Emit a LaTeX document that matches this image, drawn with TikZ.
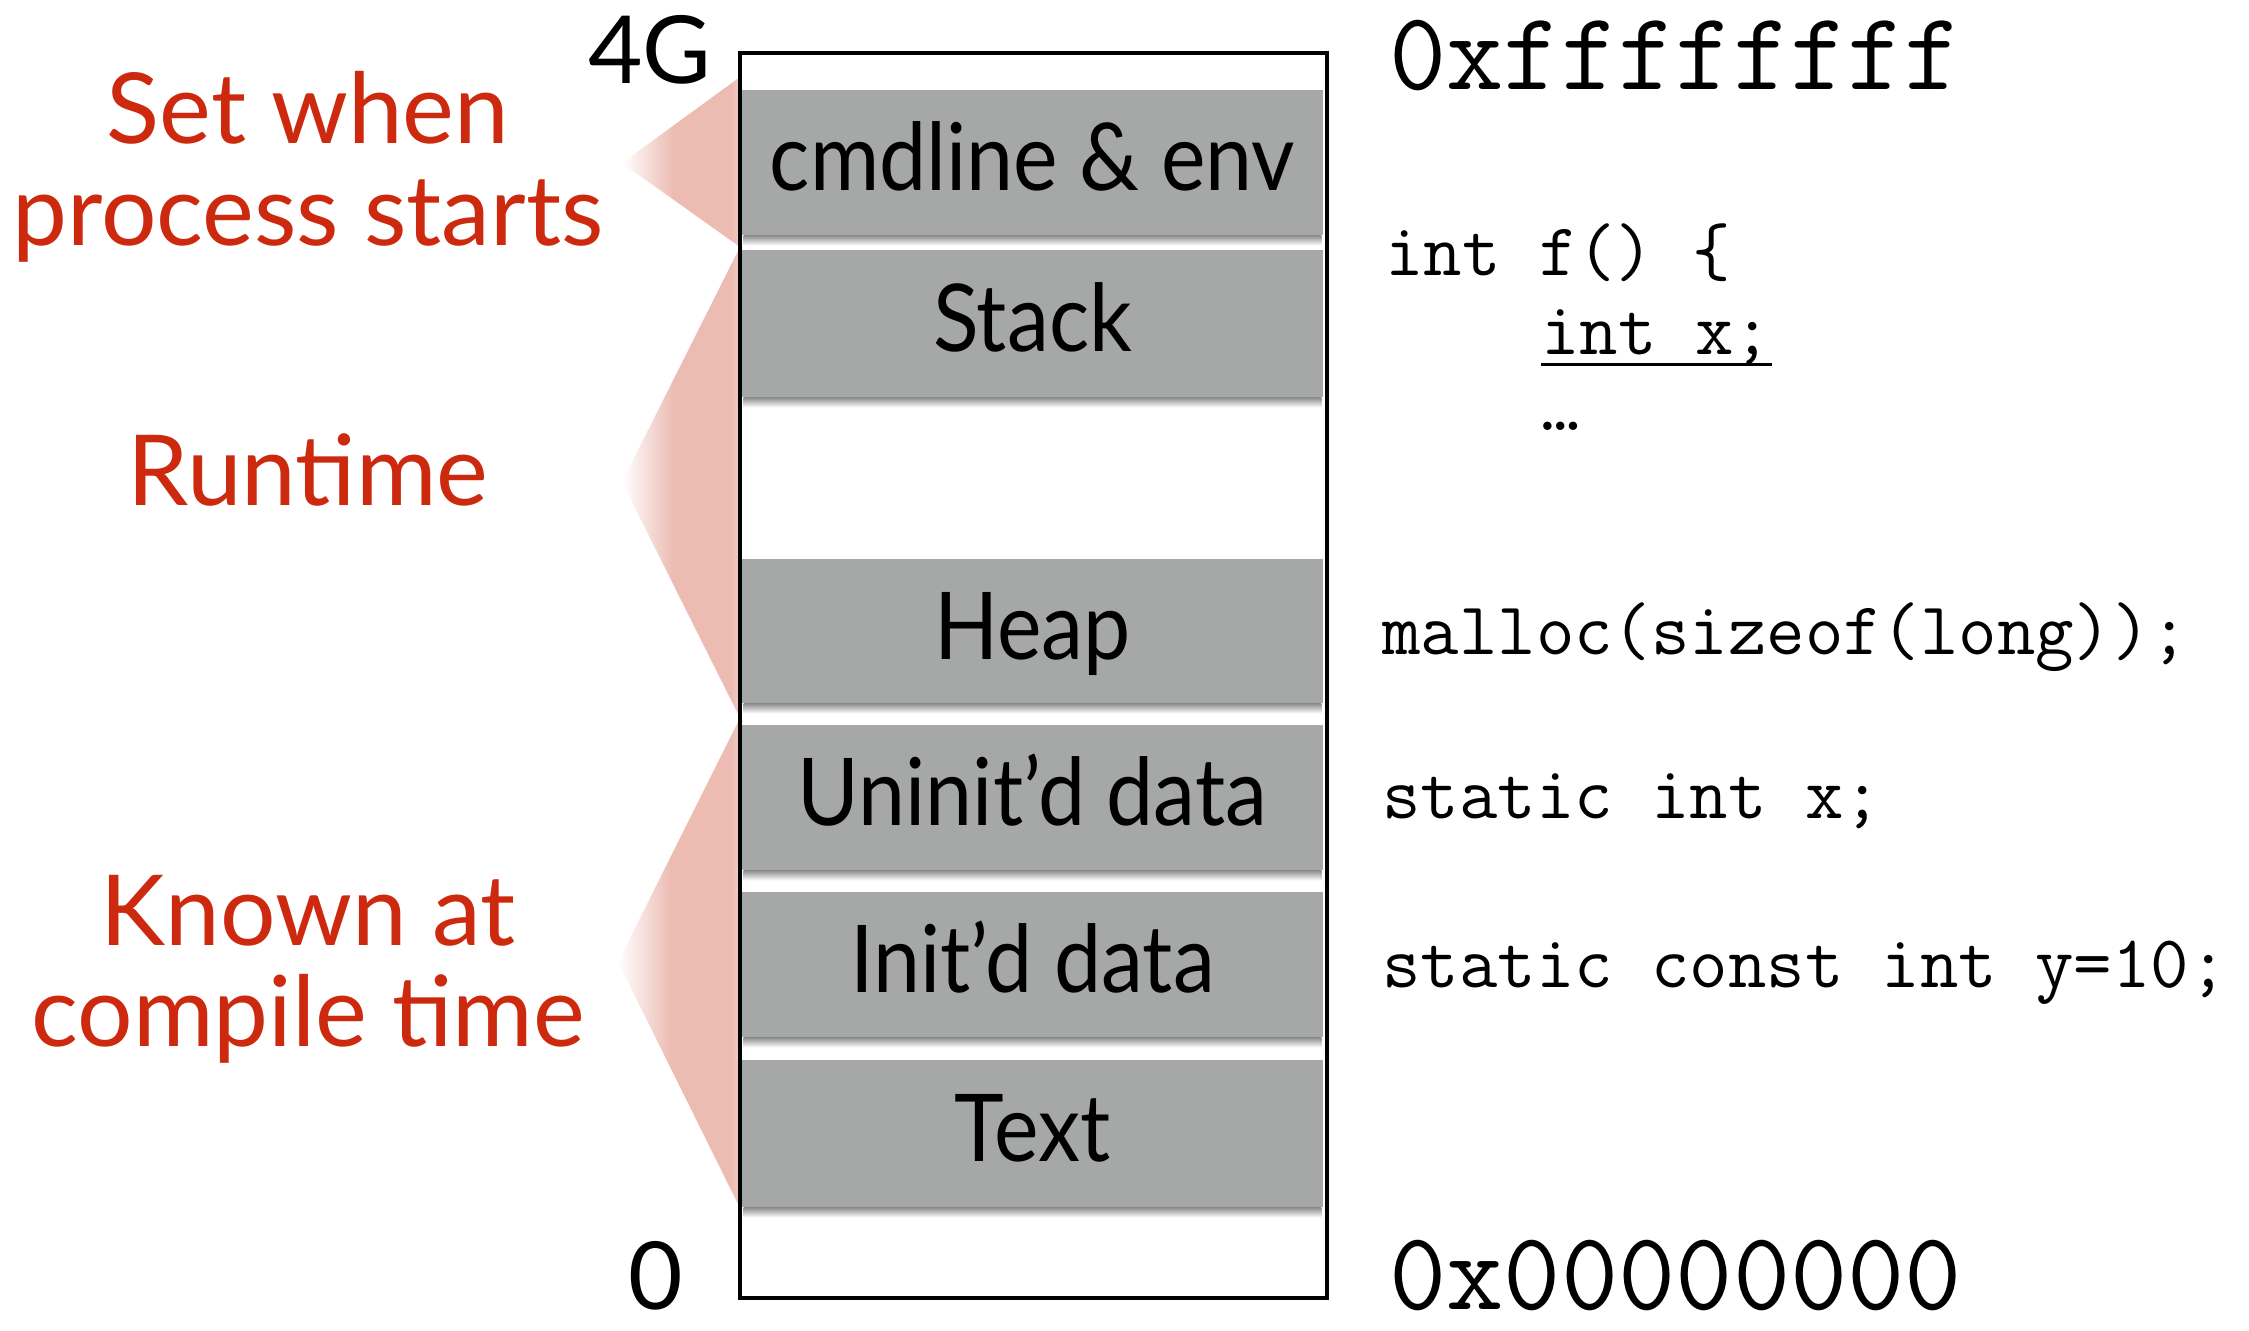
\documentclass[tikz,border=0pt]{standalone}
\usepackage{fontspec}
\setmainfont{Lato}
\newfontfamily\segfont[FakeStretch=0.9]{Lato}
\definecolor{labelred}{RGB}{204,41,14}
\definecolor{wedgepink}{RGB}{236,187,178}
\definecolor{segray}{RGB}{165,168,166}
% pink wedge: white at the tip, solid pink toward the memory column
\pgfdeclarehorizontalshading{wedgefade}{100bp}{color(0bp)=(white); color(25bp)=(white); color(47bp)=(wedgepink); color(71bp)=(wedgepink); color(75bp)=(wedgepink!75); color(100bp)=(wedgepink!75)}
% slightly heavier typewriter face for the code samples
\newcommand{\codeface}{\ttfamily\addfontfeatures{FakeBold=1.2}}

\begin{document}
\begin{tikzpicture}[x=0.5pt,y=-0.5pt,
  seg/.style={fill=segray, inner sep=0pt, minimum width=290.5pt,
    text height=34pt, text depth=6pt,
    font=\segfont\fontsize{46.8}{50}\selectfont},
  redlab/.style={anchor=base, inner sep=0pt, text=labelred,
    font=\fontsize{49}{50}\selectfont},
  addr/.style={inner sep=0pt, font=\fontsize{47}{50}\selectfont},
  hexaddr/.style={anchor=base west, inner sep=0pt,
    font=\codeface\fontsize{55.6}{58}\selectfont},
  code/.style={anchor=base west, inner sep=0pt,
    font=\codeface\fontsize{37.3}{40}\selectfont},
  segshadow/.style={top color=black!45, bottom color=white}]
\useasboundingbox (0,0) rectangle (2249,1330);

% wedge corners
\coordinate (w1top) at (740,77);
\coordinate (w1tip) at (622,163);
\coordinate (w1bot) at (740,247);
\coordinate (w2tip) at (622,482);
\coordinate (w2bot) at (740,718);
\coordinate (w3tip) at (618,962);
\coordinate (w3bot) at (740,1208);

\shade[shading=wedgefade] (w1top) -- (w1tip) -- (w1bot) -- cycle;
\shade[shading=wedgefade] (w1bot) -- (w2tip) -- (w2bot) -- cycle;
\shade[shading=wedgefade] (w2bot) -- (w3tip) -- (w3bot) -- cycle;

% memory segments
\node[seg, minimum height=72.5pt] (cmd)    at (1032.5,162.5) {cmdline \& env};
\node[seg, minimum height=73.5pt] (stack)  at (1032.5,323.5) {Stack};
\node[seg, minimum height=72pt]   (heap)   at (1032.5,631)   {Heap};
\node[seg, minimum height=72.5pt] (uninit) at (1032.5,797.5) {Uninit’d data};
\node[seg, minimum height=72.5pt] (init)   at (1032.5,964.5) {Init’d data};
\node[seg, minimum height=73.5pt] (text)   at (1032.5,1133.5) {Text};

\foreach \s in {cmd,stack,heap,uninit,init,text}
  \shade[segshadow] ([xshift=1pt]\s.south west) rectangle ([xshift=-1pt,yshift=-5pt]\s.south east);

% address space outline
\node[draw, line width=2.3pt, inner sep=0pt, minimum width=293.5pt,
  minimum height=622.5pt] (mem) at (1033.5,675.5) {};

% address bounds
\node[addr, anchor=base east] (four) at (712,83) {4G};
\node[addr, anchor=base] (zero) at (656,1309) {0};
\node[hexaddr] (hihex) at (1389,89) {0xffffffff};
\node[hexaddr] (lohex) at (1389,1309) {0x00000000};

% lifetime labels
\node[redlab] (set1)   at (308,143)  {Set when};
\node[redlab] (set2)   at (308,245)  {process starts};
\node[redlab] (run)    at (308,505)  {Runtime};
\node[redlab] (known1) at (308,945)  {Known at};
\node[redlab] (known2) at (308,1046) {compile time};

% example declarations
\node[code] (fdef)   at (1385,275) {int f() \{};
\node[code] (localx) at (1541,354) {int x;};
\node[code] (dots)   at (1541,430) {…};
\node[code] (mal)    at (1382,654) {malloc(sizeof(long));};
\node[code] (sx)     at (1382,818) {static int x;};
\node[code] (sy)     at (1382,987) {static const int y=10;};
\draw[line width=1.5pt] ([yshift=-5pt]localx.base west) -- ([yshift=-5pt]localx.base east);
\end{tikzpicture}
\end{document}
